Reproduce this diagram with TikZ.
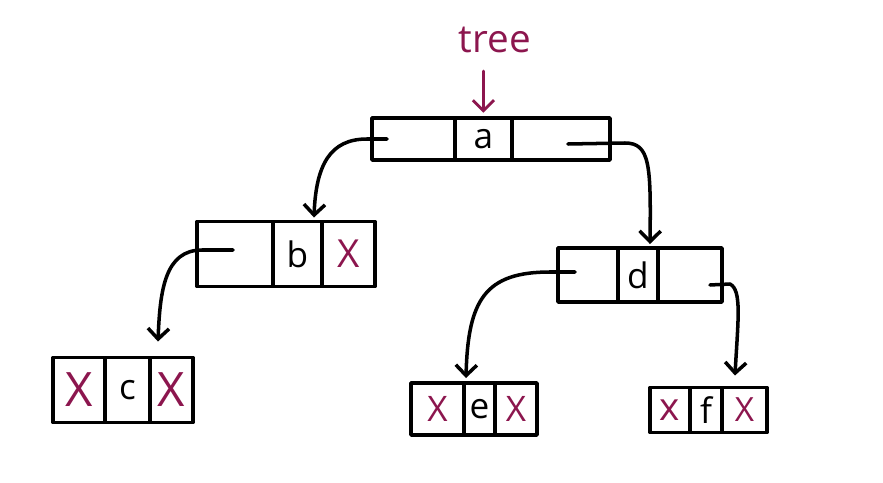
\documentclass[tikz,border=0pt]{standalone}
\usepackage{fontspec}
\setmainfont{Open Sans}
\usetikzlibrary{arrows.meta,positioning,calc}
\definecolor{penred}{RGB}{140,22,78}
\begin{document}
\begin{tikzpicture}[x=0.02cm,y=-0.02cm,line width=2pt,line cap=round,line join=round,
  cell/.style={draw,rectangle,minimum height=#1,inner sep=0pt,outer sep=0pt,font=\fontsize{20}{22}\selectfont},
  nil/.style={text=penred,font=\fontsize{#1}{#1}\selectfont},
  ptr/.style={-{Straight Barb[length=6pt,width=12pt]}}]
\useasboundingbox (0,0) rectangle (883,483);
% root a
\node[text=penred,font=\fontsize{22}{24}\selectfont] (tree) at (495,40) {tree};
\node[cell=.84cm,minimum width=1.66cm,anchor=west] (aL) at (372,139) {};
\node[cell=.84cm,minimum width=1.14cm,right=0pt of aL] (aM) {a};
\node[cell=.84cm,minimum width=1.96cm,right=0pt of aM] (aR) {};
% level 1
\node[cell=1.3cm,minimum width=1.52cm,anchor=west] (bL) at (197,254) {};
\node[cell=1.3cm,minimum width=.98cm,right=0pt of bL] (bM) {b};
\node[cell=1.3cm,minimum width=1.06cm,right=0pt of bM,nil=22pt] (bR) {X};
\node[cell=1.08cm,minimum width=1.2cm,anchor=west] (dL) at (558,275) {};
\node[cell=1.08cm,minimum width=.8cm,right=0pt of dL] (dM) {d};
\node[cell=1.08cm,minimum width=1.28cm,right=0pt of dM] (dR) {};
% leaves
\node[cell=1.3cm,minimum width=1.04cm,anchor=west,nil=27pt] (cL) at (53,390) {X};
\node[cell=1.3cm,minimum width=.9cm,right=0pt of cL] (cM) {c};
\node[cell=1.3cm,minimum width=.86cm,right=0pt of cM,nil=27pt] (cR) {X};
\node[cell=1.04cm,minimum width=1.06cm,anchor=west,nil=20pt] (eL) at (411,409) {X};
\node[cell=1.04cm,minimum width=.62cm,right=0pt of eL] (eM) {e};
\node[cell=1.04cm,minimum width=.84cm,right=0pt of eM,nil=20pt] (eR) {X};
\node[cell=.9cm,minimum width=.8cm,anchor=west,nil=22pt] (fL) at (650,410) {x};
\node[cell=.9cm,minimum width=.64cm,right=0pt of fL] (fM) {f};
\node[cell=.9cm,minimum width=.9cm,right=0pt of fM,nil=19pt] (fR) {X};
% pointers
\draw[ptr,penred,line width=1.6pt,shorten >=3pt] ([yshift=-6pt]tree.south -| aM.north) -- (aM.north);
\draw[ptr] ($(aL.west)+(15,0)$) -- ($(aL.west)+(-5,0)$) .. controls (330,139) and (316,165) .. ($(bM.north east)+(-8,-4)$);
\draw[ptr] ($(aR.west)+(56,5)$) -- ($(aR.east)+(15,4)$) .. controls (650,143) and (651,165) .. ($(dM.north east)+(-8,-4)$);
\draw[ptr] ($(bL.west)+(36,-4)$) -- ($(bL.west)+(5,-4)$) .. controls (165,250) and (160,290) .. ($(cR.north west)+(8,-16)$);
\draw[ptr] ($(dL.west)+(17,-3)$) -- ($(dL.west)+(-8,-3)$) .. controls (485,272) and (468,300) .. ($(eM.north west)+(2,-5)$);
\draw[ptr] ($(dR.east)+(-12,10)$) -- ($(dR.east)+(8,9)$) .. controls (742,290) and (738,320) .. ($(fR.north west)+(13,-12)$);
\end{tikzpicture}
\end{document}
